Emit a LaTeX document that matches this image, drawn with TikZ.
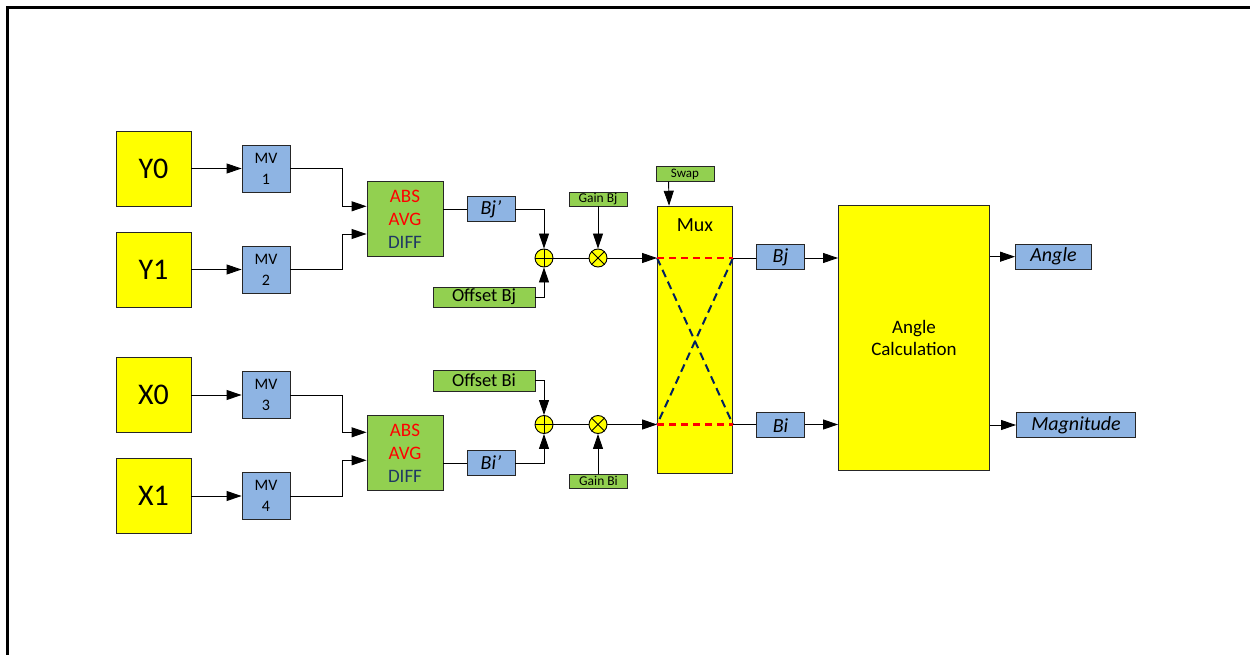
\documentclass[tikz,border=0pt]{standalone}
\usepackage{fontspec}
\setmainfont{Carlito}
\usetikzlibrary{arrows.meta,calc}
\definecolor{ylw}{HTML}{FFFF00}
\definecolor{grn}{HTML}{92D050}
\definecolor{blu}{HTML}{8EB4E3}
\definecolor{navytxt}{HTML}{1F3864}
\definecolor{dashblue}{HTML}{002060}
\begin{document}
\begin{tikzpicture}[x=1pt,y=-1pt,
  box/.style={draw=black!85, line width=0.9pt, inner sep=0pt, align=center},
  ybox/.style={box, fill=ylw},
  gbox/.style={box, fill=grn},
  bbox/.style={box, fill=blu},
  opnode/.style={draw=black, line width=0.9pt, fill=ylw, circle, minimum size=18pt, inner sep=0pt},
  arr/.style={-{Triangle[length=15pt,width=10pt]}, line width=0.9pt},
  wire/.style={line width=0.9pt},
  bigfont/.style={font=\fontsize{30}{36}\selectfont},
  mvfont/.style={font=\fontsize{16}{21}\selectfont},
  midfont/.style={font=\fontsize{19}{23}\selectfont},
  itfont/.style={font=\fontsize{20}{24}\selectfont\itshape},
  smallfont/.style={font=\fontsize{13.5}{16}\selectfont},
]
\useasboundingbox (0,0) rectangle (1250,655);
\draw[line width=3pt] (7.5,655) -- (7.5,7.5) -- (1250,7.5);

% inputs
\node[ybox, bigfont, minimum width=75pt, minimum height=75pt] (y0) at (153.5,168.5) {Y0};
\node[ybox, bigfont, minimum width=75pt, minimum height=75pt] (y1) at (153.5,269.5) {Y1};
\node[ybox, bigfont, minimum width=75pt, minimum height=75pt] (x0) at (153.5,395) {X0};
\node[ybox, bigfont, minimum width=75pt, minimum height=75pt] (x1) at (153.5,496) {X1};

% MV boxes
\node[bbox, mvfont, minimum width=48pt, minimum height=47pt] (mv1) at (266,168.5) {MV\\1};
\node[bbox, mvfont, minimum width=48pt, minimum height=47pt] (mv2) at (266,269.5) {MV\\2};
\node[bbox, mvfont, minimum width=48pt, minimum height=47pt] (mv3) at (266,395) {MV\\3};
\node[bbox, mvfont, minimum width=48pt, minimum height=47pt] (mv4) at (266,496) {MV\\4};

% ABS/AVG/DIFF
\node[gbox, midfont, minimum width=76pt, minimum height=75pt] (abs1) at (405,219) {\textcolor{red}{ABS}\\\textcolor{red}{AVG}\\\textcolor{navytxt}{DIFF}};
\node[gbox, midfont, minimum width=76pt, minimum height=75pt] (abs2) at (405,453) {\textcolor{red}{ABS}\\\textcolor{red}{AVG}\\\textcolor{navytxt}{DIFF}};

% primes
\node[bbox, itfont, minimum width=48pt, minimum height=25pt] (bjp) at (491,209) {Bj’};
\node[bbox, itfont, minimum width=48pt, minimum height=25pt] (bip) at (491,463) {Bi’};

% operators
\node[opnode] (s1) at (544,258) {};
\node[opnode] (m1) at (598,258) {};
\node[opnode] (s2) at (544,424.5) {};
\node[opnode] (m2) at (598,424.5) {};
\draw[wire] (s1.north) -- (s1.south) (s1.west) -- (s1.east);
\draw[wire] (s2.north) -- (s2.south) (s2.west) -- (s2.east);
\draw[wire] (m1.north west) -- (m1.south east) (m1.north east) -- (m1.south west);
\draw[wire] (m2.north west) -- (m2.south east) (m2.north east) -- (m2.south west);

% offsets and gains
\node[gbox, font=\fontsize{18.5}{22}\selectfont, minimum width=102pt, minimum height=20pt] (offbj) at (484,297) {Offset Bj};
\node[gbox, font=\fontsize{18.5}{22}\selectfont, minimum width=102pt, minimum height=21pt] (offbi) at (484,380.5) {Offset Bi};
\node[gbox, smallfont, minimum width=58pt, minimum height=14pt] (gainbj) at (598,199) {Gain Bj};
\node[gbox, smallfont, minimum width=58pt, minimum height=14pt] (gainbi) at (598.5,481) {Gain Bi};
\node[gbox, font=\fontsize{13}{15}\selectfont, minimum width=58pt, minimum height=14.5pt] (swap) at (685,174) {Swap};

% mux
\node[ybox, minimum width=75pt, minimum height=267pt] (mux) at (695,339.7) {};
\node[font=\fontsize{20}{24}\selectfont] (muxlbl) at (695,225) {Mux};

% outputs of mux
\node[bbox, itfont, minimum width=48pt, minimum height=25pt] (bj) at (780.5,257.3) {Bj};
\node[bbox, itfont, minimum width=48pt, minimum height=25pt] (bi) at (780.5,425.3) {Bi};

% angle calculation
\node[ybox, minimum width=151pt, minimum height=265pt, font=\fontsize{19}{22}\selectfont] (calc) at (914,338.3) {Angle\\Calculation};
\node[bbox, itfont, minimum width=76pt, minimum height=25pt] (angle) at (1053.5,256.7) {Angle};
\node[bbox, itfont, minimum width=119pt, minimum height=25pt] (mag) at (1076,425) {Magnitude};

% connectors left part
\draw[arr] (y0) -- (mv1);
\draw[arr] (y1) -- (mv2);
\draw[arr] (x0) -- (mv3);
\draw[arr] (x1) -- (mv4);
\coordinate (j1) at (342,206.3);
\coordinate (j2) at (342,234);
\coordinate (j3) at (342,432.3);
\coordinate (j4) at (342,460.3);
\draw[arr] (mv1.east) -| (j1) -- (j1 -| abs1.west);
\draw[arr] (mv2.east) -| (j2) -- (j2 -| abs1.west);
\draw[arr] (mv3.east) -| (j3) -- (j3 -| abs2.west);
\draw[arr] (mv4.east) -| (j4) -- (j4 -| abs2.west);

\draw[wire] (abs1.east |- bjp) -- (bjp.west);
\draw[wire] (abs2.east |- bip) -- (bip.west);
\draw[arr] (bjp.east) -| (s1.north);
\draw[arr] (offbj.east) -| (s1.south);
\draw[arr] (offbi.east) -| (s2.north);
\draw[arr] (bip.east) -| (s2.south);
\draw[wire] (s1.east) -- (m1.west);
\draw[wire] (s2.east) -- (m2.west);
\draw[arr] (gainbj.south -| m1) -- (m1.north);
\draw[arr] (gainbi.north -| m2) -- (m2.south);
\draw[arr] (m1.east) -- (m1.east -| mux.west);
\draw[arr] (m2.east) -- (m2.east -| mux.west);
\draw[arr] ([xshift=13pt]swap.south west) -- ([xshift=12pt]mux.north west);

% mux internals
\coordinate (ml1) at (m1 -| mux.west);
\coordinate (mr1) at (m1 -| mux.east);
\coordinate (ml2) at (m2 -| mux.west);
\coordinate (mr2) at (m2 -| mux.east);
\draw[dashblue, line width=2pt, dash pattern=on 8pt off 5pt] (ml1) -- (mr2) (mr1) -- (ml2);
\draw[red, line width=2.5pt, dash pattern=on 7pt off 5pt] (ml1) -- (mr1) (ml2) -- (mr2);

% right part
\draw[wire] (mr1) -- (mr1 -| bj.west);
\draw[wire] (mr2) -- (mr2 -| bi.west);
\draw[arr] (bj.east |- mr1) -- (mr1 -| calc.west);
\draw[arr] (bi.east |- mr2) -- (mr2 -| calc.west);
\draw[arr] (calc.east |- angle) -- (angle.west);
\draw[arr] (calc.east |- mag) -- (mag.west);
\end{tikzpicture}
\end{document}
